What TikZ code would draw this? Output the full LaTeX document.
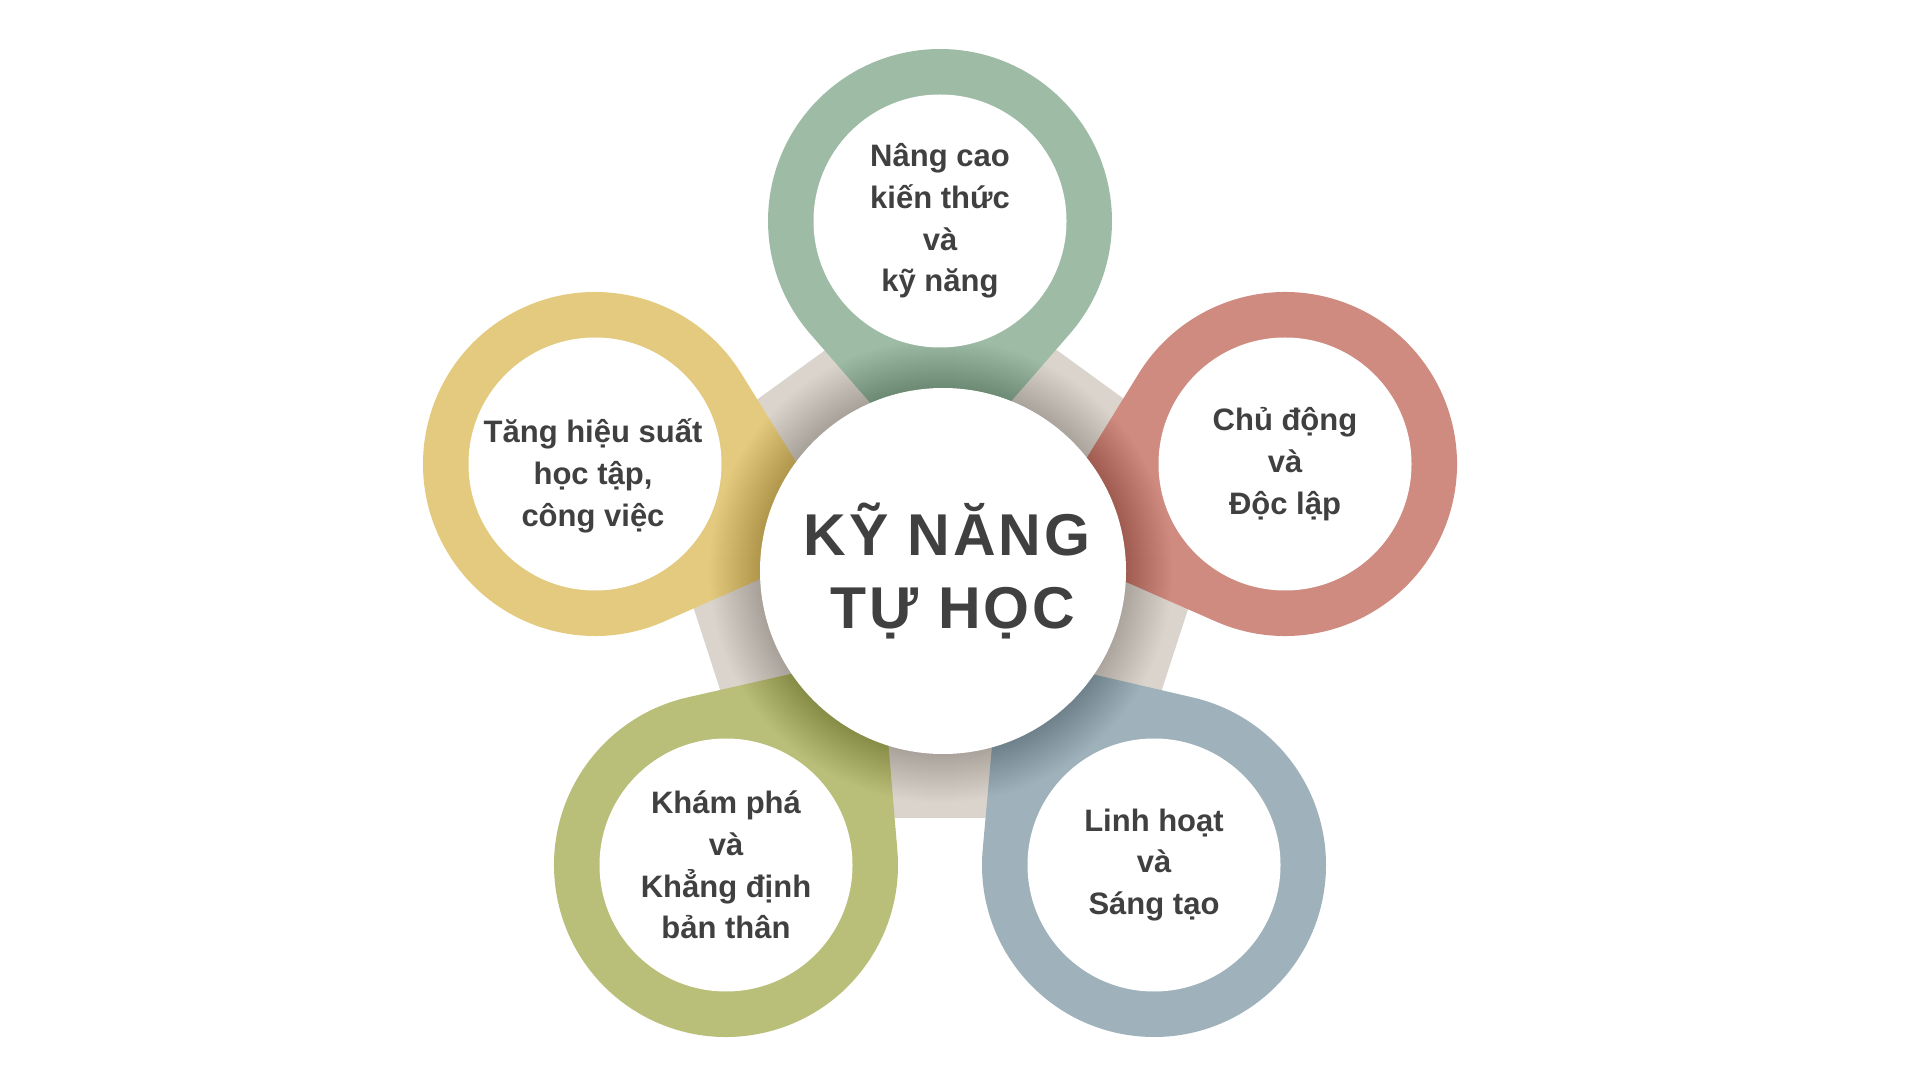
\documentclass[tikz,border=0pt]{standalone}
\usepackage{fontspec}
\setmainfont{Liberation Sans}
\newfontfamily\titlefont{Liberation Sans}[LetterSpace=5]
\usetikzlibrary{calc}
\definecolor{cgreen}{RGB}{157,187,165}
\definecolor{cred}{RGB}{207,139,128}
\definecolor{cblue}{RGB}{159,178,187}
\definecolor{colive}{RGB}{185,190,120}
\definecolor{cyellow}{RGB}{227,202,126}
\definecolor{cpenta}{RGB}{219,212,204}
\definecolor{ctext}{RGB}{64,64,64}
\tikzset{
  hole/.style={circle, fill=white, minimum size=253pt, inner sep=0pt},
  label/.style={text=ctext, align=center, font=\fontsize{31}{41.7}\selectfont\bfseries},
  title/.style={circle, fill=white, minimum size=366pt, inner sep=0pt, text=ctext, align=center,
     font=\titlefont\fontsize{59}{73}\selectfont\bfseries}
}
\begin{document}
\begin{tikzpicture}[x=1pt,y=1pt]
\useasboundingbox (0,0) rectangle (1920,1080);
\fill[white] (0,0) rectangle (1920,1080);
\coordinate (M) at (941,509);
\coordinate (G) at (940,859);
\coordinate (R) at (1285,616);
\coordinate (B) at (1154,215);
\coordinate (O) at (726,215);
\coordinate (Y) at (595,616);
% pentagon
\fill[cpenta] ($(M)+(90:305)$) -- ($(M)+(18:305)$) -- ($(M)+(-54:305)$) -- ($(M)+(-126:305)$) -- ($(M)+(162:305)$) -- cycle;
% pins
\foreach \c/\a/\col in {G/-90/cgreen, R/197.3/cred, B/125.9/cblue, O/53.8/colive, Y/-17.2/cyellow}{
  \fill[\col] ($(\c)+(\a+48.6:172)$) arc[start angle=\a+48.6, end angle=\a+311.4, radius=172] -- ($(\c)+(\a:262)$) -- cycle;
}
% shadow of the centre circle
\foreach \i in {0,...,49}{
  \fill[black, opacity=0.0037] (M) circle[radius=183+\i];
}
\node[title] (main) at ($(M)+(2,0)$) {\hspace*{8pt}KỸ NĂNG\\\hspace*{20pt}TỰ HỌC};
\node[hole] (g) at (G) {};
\node[hole] (r) at (R) {};
\node[hole] (b) at (B) {};
\node[hole] (o) at (O) {};
\node[hole] (y) at (Y) {};
\node[label] (gt) at (G) {Nâng cao\\kiến thức\\và\\kỹ năng};
\node[label] (rt) at (R) {Chủ động\\và\\Độc lập};
\node[label] (bt) at (B) {Linh hoạt\\và\\Sáng tạo};
\node[label] (ot) at (O) {Khám phá\\và\\Khẳng định\\bản thân};
\node[label] (yt) at ($(Y)+(-2,-12)$) {Tăng hiệu suất\\học tập,\\công việc};
\end{tikzpicture}
\end{document}
